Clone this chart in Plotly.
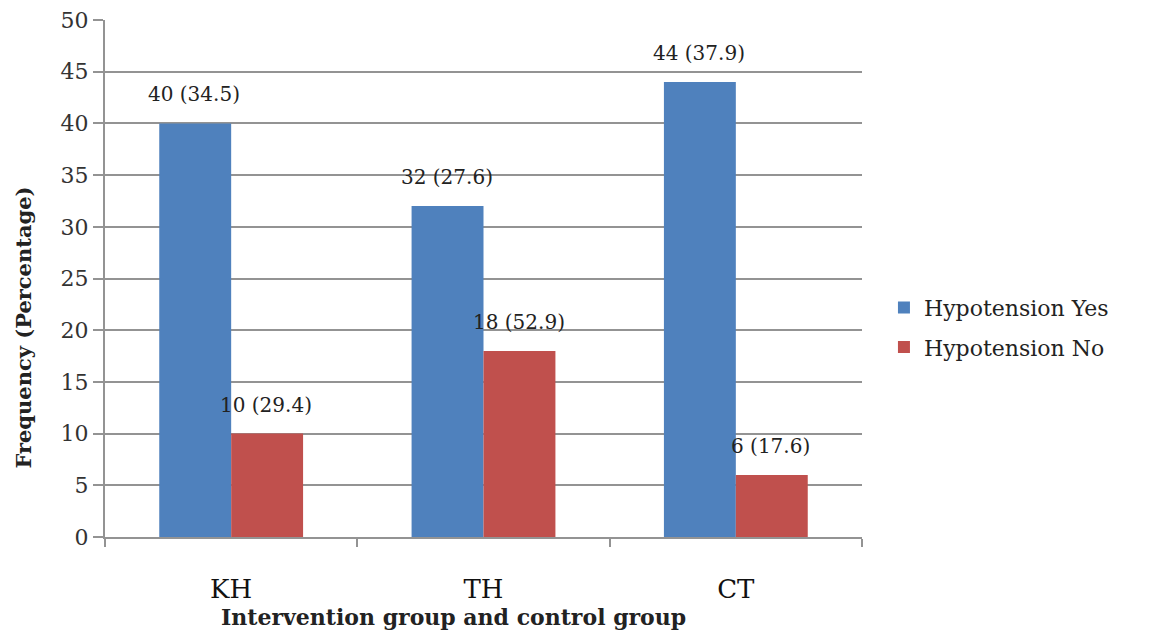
import plotly.graph_objects as go

categories = ["KH", "TH", "CT"]
yes_values = [40, 32, 44]
yes_pct = [34.5, 27.6, 37.9]
no_values = [10, 18, 6]
no_pct = [29.4, 52.9, 17.6]
y_ticks = [0, 5, 10, 15, 20, 25, 30, 35, 40, 45, 50]

FONT = "DejaVu Serif, serif"
GRID = "#939393"

fig = go.Figure()
fig.add_trace(go.Bar(
    x=categories, y=yes_values, name="Hypotension Yes", legendgroup="yes",
    marker=dict(color="#4F81BD", line=dict(width=0)),
))
fig.add_trace(go.Bar(
    x=categories, y=no_values, name="Hypotension No", legendgroup="no",
    marker=dict(color="#C0504D", line=dict(width=0)),
))

annotations = []
for series, pcts, shift in ((yes_values, yes_pct, -37), (no_values, no_pct, 35)):
    for c, v, p in zip(categories, series, pcts):
        annotations.append(dict(
            x=c, y=v, xref="x", yref="y", text=f"{v} ({p})",
            xshift=shift, yshift=29, xanchor="center", yanchor="middle",
            showarrow=False, font=dict(family=FONT, size=20, color="#222"),
        ))

annotations += [
    dict(text="<b>Intervention group and control group</b>", xref="paper", yref="paper",
         x=0.46, y=0, yshift=-80, xanchor="center", yanchor="middle", showarrow=False,
         font=dict(family=FONT, size=22, color="#222")),
    dict(text="<b>Frequency (Percentage)</b>", xref="paper", yref="paper",
         x=0, xshift=-81, y=0.405, xanchor="center", yanchor="middle", textangle=-90,
         showarrow=False, font=dict(family=FONT, size=21, color="#222")),
]

fig.update_layout(
    width=1168, height=634,
    margin=dict(l=105, r=306, t=20, b=97),
    paper_bgcolor="white", plot_bgcolor="white",
    barmode="group", bargap=0.43, bargroupgap=0,
    font=dict(family=FONT, color="#222"),
    showlegend=True,
    legend=dict(x=1.029, y=0.405, xanchor="left", yanchor="middle",
                font=dict(family=FONT, size=22, color="#222"),
                tracegroupgap=8, itemwidth=30),
    xaxis=dict(
        showline=True, linecolor=GRID, linewidth=2,
        ticks="outside", tickson="boundaries", ticklen=8, tickcolor=GRID, tickwidth=2,
        tickfont=dict(family=FONT, size=26, color="#111"),
        ticklabelstandoff=28, automargin=False,
        showgrid=False,
    ),
    yaxis=dict(
        range=[0, 50], tickvals=y_ticks,
        showline=True, linecolor=GRID, linewidth=2,
        ticks="outside", ticklen=10, tickcolor=GRID, tickwidth=2,
        showgrid=True, gridcolor=GRID, gridwidth=2,
        tickfont=dict(family=FONT, size=22, color="#333"),
        zeroline=False, automargin=False,
    ),
    annotations=annotations,
)

fig.write_html("out.html")
